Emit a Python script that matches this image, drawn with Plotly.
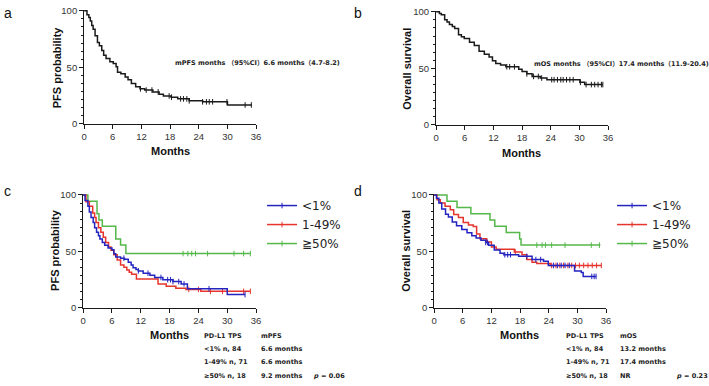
import numpy as np
import plotly.graph_objects as go

W, H = 709, 386

# ---------------- data ----------------
# Panel a: PFS, all patients (step times in months, survival % after the step)
pfs_all_t = [0, 0.6, 1.0, 1.3, 1.6, 1.9, 2.3, 2.8, 3.2, 3.7, 4.1, 4.6, 5.4, 6.1, 6.7, 7.0,
             7.7, 8.6, 9.2, 9.9, 10.8, 11.7, 12.7, 14.4, 15.7, 16.6, 18.2, 19.6, 22.0, 24.8, 30.0]
pfs_all_s = [100, 96.5, 94, 91, 87, 83.6, 78, 72, 69, 65, 60.6, 57.8, 55, 53.4, 50.6, 45.7,
             44.3, 41.4, 39, 35.6, 32.8, 31, 29.9, 28.2, 26.1, 24.7, 23.6, 22.1, 20.4, 19.5, 16.7]
pfs_all_end = 35.1
pfs_all_cens = [11.8, 13.0, 14.2, 15.5, 17.8, 18.3, 20.2, 20.8, 21.5, 22.0, 24.8, 25.6,
                26.2, 26.9, 29.9, 33.7, 35.0]

# Panel b: OS, all patients
os_all_t = [0, 0.7, 1.1, 1.8, 2.3, 2.8, 3.4, 3.9, 4.7, 5.3, 5.9, 7.0, 8.0, 9.0, 10.1, 11.1,
            11.8, 12.5, 13.5, 14.6, 17.3, 18.0, 19.0, 20.1, 21.8, 23.2, 30.1, 31.1]
os_all_s = [100, 98.5, 97.4, 93, 91, 88.8, 87, 85.3, 79.6, 78, 76.4, 73, 70.1, 65.2, 62.4, 60,
            56.6, 54.3, 52.9, 51.4, 49.1, 47.1, 45.1, 42.8, 41.4, 39.9, 37.6, 35.6]
os_all_end = 34.9
os_all_cens = [14.8, 15.4, 16.4, 19.0, 20.4, 21.4, 22.1, 24.2, 24.7, 25.4, 26.1, 26.6, 27.3,
               28.0, 28.7, 30.2, 31.4, 32.5, 33.2, 33.9, 34.6, 34.9]

# Panel c: PFS by PD-L1 TPS
pfs_lt1_t = [0, 0.4, 1.0, 1.3, 1.65, 2.1, 2.4, 2.8, 3.2, 3.5, 4.0, 4.5, 5.2, 6.0, 6.4, 6.8,
             7.8, 8.6, 9.4, 10.0, 10.4, 11.0, 11.5, 12.5, 13.9, 14.9, 16.6, 18.7, 20.4, 21.7, 30.0]
pfs_lt1_s = [100, 95, 90, 85, 80, 75.6, 71, 67, 64, 61, 58, 55.5, 53, 51.5, 48, 45,
             44, 43, 40.5, 38, 35.6, 34, 32.8, 30.7, 29, 27, 25, 23.3, 21.3, 17, 11.8]
pfs_lt1_end = 33.7
pfs_lt1_cens = [8.5, 11.5, 13.5, 16.2, 17.6, 18.2, 18.7, 19.9, 21.0, 26.2, 33.7]

pfs_mid_t = [0, 0.6, 1.3, 2.0, 2.4, 2.7, 3.2, 3.7, 4.2, 4.7, 5.3, 5.8, 6.4, 7.1, 7.8, 8.5,
             9.1, 9.6, 10.1, 11.1, 15.6, 17.3, 19.3, 21.4, 24.5]
pfs_mid_s = [100, 94, 90, 84, 80, 75.6, 71, 67, 62.5, 58, 54, 51, 47, 42.5, 38, 36,
             33.6, 31.5, 29.9, 25.6, 21.3, 19.3, 17.5, 16.4, 14.7]
pfs_mid_end = 34.8
pfs_mid_cens = [22.0, 24.0, 26.5, 29.0, 33.4, 34.8]

pfs_hi_t = [0, 1.0, 2.9, 3.3, 4.0, 6.8, 7.8, 8.9]
pfs_hi_s = [100, 94.4, 83.3, 77.8, 72.2, 61.1, 55.6, 48.1]
pfs_hi_end = 34.8
pfs_hi_cens = [20.8, 21.8, 22.6, 23.4, 25.9, 31.4, 33.4, 34.8]

# Panel d: OS by PD-L1 TPS
os_lt1_t = [0, 0.5, 1.0, 1.6, 2.4, 3.0, 3.8, 4.7, 5.8, 6.9, 7.9, 8.8, 9.8, 10.8, 11.4, 12.6,
            13.8, 14.6, 17.7, 20.5, 22.9, 23.9, 29.4, 30.8, 31.2]
os_lt1_s = [100, 97, 92.8, 87.5, 83, 80.5, 76, 72.7, 69.5, 66.5, 64, 61.8, 59.8, 58, 55.5, 51.2,
            48.4, 47.1, 45.7, 42.8, 41.4, 37.6, 32.8, 31.3, 27.9]
os_lt1_end = 33.9
os_lt1_cens = [10.8, 11.2, 14.8, 15.4, 16.0, 19.4, 21.3, 22.3, 25.0, 25.8, 26.6, 27.4, 28.3,
               33.0, 33.5, 33.9]

os_mid_t = [0, 0.6, 1.3, 2.3, 3.4, 4.1, 5.1, 6.1, 7.2, 8.2, 8.9, 9.6, 11.0, 12.0, 13.0, 16.8,
            18.4, 19.4, 20.5, 21.5, 24.3]
os_mid_s = [100, 95.7, 92.8, 90, 87, 82.8, 80, 75.6, 73.3, 72.1, 65.5, 61.2, 58.3, 54, 52, 49.5,
            47.1, 42.8, 40.5, 39.4, 37.6]
os_mid_end = 35.0
os_mid_cens = [17.0, 24.6, 25.5, 26.3, 27.1, 28.0, 28.8, 29.6, 30.4, 31.3, 32.2, 33.1, 34.0, 35.0]

os_hi_t = [0, 2.7, 4.8, 7.7, 11.7, 12.7, 15.1, 17.9, 18.2]
os_hi_s = [100, 94.4, 88.9, 83.3, 77.8, 72.2, 66.7, 61.1, 55.6]
os_hi_end = 34.8
os_hi_cens = [21.5, 22.6, 23.3, 24.6, 27.4, 32.9, 34.6]

x_ticks = [0, 6, 12, 18, 24, 30, 36]
y_ticks = [0, 50, 100]
group_names = ["&lt;1%", "1-49%", "≧50%"]

# ---------------- styling ----------------
BLACK = "#1a1a1a"
BLUE = "#2424c0"
RED = "#e5352d"
GREEN = "#55b84a"
TICKFONT = dict(family="Liberation Sans, Arial", size=9.5, color="#333")


def px(x):
    return x / W


def py(y):
    return 1 - y / H


def step_xy(t, s, end):
    return list(t) + [end], list(s) + [s[-1]]


def cens_y(t, s, c):
    idx = np.searchsorted(np.array(t), np.array(c), side="right") - 1
    return [s[i] for i in idx]


fig = go.Figure()

panels = [
    # (axis suffix, x0 pix, x36 pix, y0 pix, y100 pix)
    ("", 82, 256, 122, 6),
    ("2", 438, 612, 123, 7),
    ("3", 81, 256, 311, 195),
    ("4", 436, 610, 311, 195),
]

minor_vals = [v for v in np.arange(0, 100.001, 50 / 7) if min(abs(v - m) for m in y_ticks) > 1e-6]

layout_axes = {}
for suf, x0, x36, y0, y100 in panels:
    unit = (y0 - y100) / 100.0
    top = y0 - 101 * unit
    layout_axes["xaxis" + suf] = dict(
        domain=[px(x0), px(x36)], range=[0, 36], anchor="y" + suf,
        tickmode="array", tickvals=x_ticks, ticks="outside", ticklen=4, tickwidth=1,
        tickcolor=BLACK, showline=True, linecolor=BLACK, linewidth=1, showgrid=False,
        zeroline=False, tickfont=TICKFONT, fixedrange=True)
    layout_axes["yaxis" + suf] = dict(
        domain=[py(y0), py(top)], range=[0, 101], anchor="x" + suf,
        tickmode="array", tickvals=y_ticks, ticks="outside", ticklen=4, tickwidth=1,
        tickcolor=BLACK, showline=True, linecolor=BLACK, linewidth=1, showgrid=False,
        zeroline=False, tickfont=TICKFONT, fixedrange=True,
        minor=dict(tickmode="array", tickvals=minor_vals, ticks="outside", ticklen=2,
                   tickwidth=1, tickcolor=BLACK, showgrid=False))


def add_curve(t, s, end, cens, color, xa, ya):
    x, y = step_xy(t, s, end)
    fig.add_trace(go.Scatter(x=x, y=y, mode="lines", line=dict(color=color, width=1.5, shape="hv"),
                             xaxis=xa, yaxis=ya, showlegend=False, hoverinfo="skip"))
    fig.add_trace(go.Scatter(x=cens, y=cens_y(t, s, cens), mode="markers",
                             marker=dict(symbol="line-ns-open", size=4, color=color,
                                         line=dict(width=1, color=color)),
                             xaxis=xa, yaxis=ya, showlegend=False, hoverinfo="skip"))


# legend entries
for legname, xa, ya in [("legend", "x3", "y3"), ("legend2", "x4", "y4")]:
    for name, col in zip(group_names, [BLUE, RED, GREEN]):
        fig.add_trace(go.Scatter(x=[None], y=[None], mode="lines+markers", name=name,
                                 line=dict(color=col, width=1.5),
                                 marker=dict(symbol="line-ns-open", size=4, color=col,
                                             line=dict(width=1, color=col)),
                                 xaxis=xa, yaxis=ya, legend=legname))

add_curve(pfs_all_t, pfs_all_s, pfs_all_end, pfs_all_cens, BLACK, "x", "y")
add_curve(os_all_t, os_all_s, os_all_end, os_all_cens, BLACK, "x2", "y2")

add_curve(pfs_hi_t, pfs_hi_s, pfs_hi_end, pfs_hi_cens, GREEN, "x3", "y3")
add_curve(pfs_mid_t, pfs_mid_s, pfs_mid_end, pfs_mid_cens, RED, "x3", "y3")
add_curve(pfs_lt1_t, pfs_lt1_s, pfs_lt1_end, pfs_lt1_cens, BLUE, "x3", "y3")

add_curve(os_hi_t, os_hi_s, os_hi_end, os_hi_cens, GREEN, "x4", "y4")
add_curve(os_mid_t, os_mid_s, os_mid_end, os_mid_cens, RED, "x4", "y4")
add_curve(os_lt1_t, os_lt1_s, os_lt1_end, os_lt1_cens, BLUE, "x4", "y4")

ann = []


def text(x, y, s, font, xanchor="left", angle=0):
    ann.append(dict(x=px(x), y=py(y), xref="paper", yref="paper", text=s, showarrow=False,
                    xanchor=xanchor, yanchor="middle", font=font, textangle=angle,
                    borderpad=0))


LABEL = dict(family="Liberation Sans, Arial", size=14, color="#111")
TITLE = dict(family="Liberation Sans, Arial", size=11, color="#111", weight="bold")
BOLDSMALL = dict(family="DejaVu Sans, Noto Sans CJK JP", size=6.5, color="#222", weight="bold")

text(5, 8, "a", LABEL, "center")
text(359, 8, "b", LABEL, "center")
text(5, 191, "c", LABEL, "center")
text(359, 191, "d", LABEL, "center")

text(54, 63.5, "PFS probability", TITLE, "center", -90)
text(409, 65, "Overall survival", TITLE, "center", -90)
text(53, 251, "PFS probability", TITLE, "center", -90)
text(408, 252, "Overall survival", TITLE, "center", -90)

text(169, 150, "Months", TITLE, "center")
text(524, 152, "Months", TITLE, "center")
text(168, 339, "Months", TITLE, "center")
text(522, 339, "Months", TITLE, "center")

text(173, 60, "mPFS months （95%CI）6.6 months（4.7-8.2)", BOLDSMALL)
text(536, 61, "mOS months （95%CI）17.4 months（11.9-20.4)", BOLDSMALL)

# panel c table
rows_y = [340, 353, 367, 381]
text(202, rows_y[0], "PD-L1 TPS", BOLDSMALL)
text(260, rows_y[0], "mPFS", BOLDSMALL)
for yy, a, b in zip(rows_y[1:], ["&lt;1% n, 84", "1-49% n, 71", "≥50% n, 18"],
                    ["6.6 months", "6.6 months", "9.2 months"]):
    text(202, yy, a, BOLDSMALL)
    text(260, yy, b, BOLDSMALL)
text(313, rows_y[3], "<i>p</i> = 0.06", BOLDSMALL)

# panel d table
text(568, rows_y[0], "PD-L1 TPS", BOLDSMALL)
text(623, rows_y[0], "mOS", BOLDSMALL)
for yy, a, b in zip(rows_y[1:], ["&lt;1% n, 84", "1-49% n, 71", "≥50% n, 18"],
                    ["13.2 months", "17.4 months", "NR"]):
    text(568, yy, a, BOLDSMALL)
    text(623, yy, b, BOLDSMALL)
text(680, rows_y[3], "<i>p</i> = 0.23", BOLDSMALL)

LEGFONT = dict(family="DejaVu Sans", size=12, color="#222")
fig.update_layout(
    width=W, height=H, margin=dict(l=0, r=0, t=0, b=0),
    paper_bgcolor="white", plot_bgcolor="white",
    annotations=ann,
    legend=dict(x=px(262), y=py(191), xanchor="left", yanchor="top", font=LEGFONT,
                bgcolor="rgba(0,0,0,0)", tracegroupgap=0, itemwidth=30),
    legend2=dict(x=px(616), y=py(191), xanchor="left", yanchor="top", font=LEGFONT,
                 bgcolor="rgba(0,0,0,0)", tracegroupgap=0, itemwidth=30),
    **layout_axes,
)

fig.write_html(
    "out.html",
    config={"displayModeBar": False, "staticPlot": False},
    post_script="document.body.style.margin='0';document.body.style.overflow='hidden';",
)
